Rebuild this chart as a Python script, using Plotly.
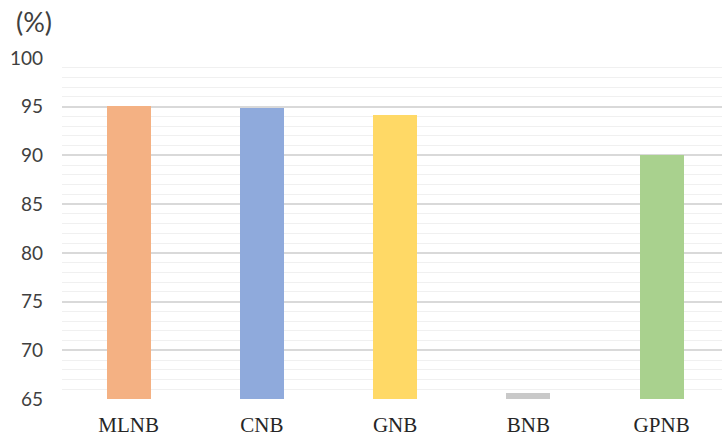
import plotly.graph_objects as go

categories = ["MLNB", "CNB", "GNB", "BNB", "GPNB"]
values = [95.05, 94.9, 94.2, 65.6, 90.0]
colors = ["#F4B183", "#8FAADC", "#FFD966", "#C9C9C9", "#A9D18E"]
y_ticks = [65, 70, 75, 80, 85, 90, 95, 100]

fig = go.Figure(go.Bar(
    x=categories, y=values, marker=dict(color=colors, line=dict(width=0)),
    width=0.33,
))

fig.update_layout(
    width=722, height=440,
    margin=dict(l=62, r=0, t=58, b=41),
    paper_bgcolor="white", plot_bgcolor="white",
    showlegend=False,
    bargap=0,
)
fig.update_xaxes(
    range=[-0.5, 4.453],
    showgrid=False, showline=False, zeroline=False,
    tickfont=dict(family="Liberation Serif", size=21, color="#262626"),
    ticklabelstandoff=11,
)
fig.update_yaxes(
    range=[65, 100],
    tickvals=y_ticks,
    showgrid=True, gridcolor="#D9D9D9", gridwidth=1.5,
    minor=dict(dtick=1, showgrid=True, gridcolor="#F0F0F0", gridwidth=1),
    zeroline=False, showline=False,
    tickfont=dict(family="Lato", size=19, color="#404040"),
    ticklabelstandoff=18,
)
fig.add_annotation(
    text="(%)", xref="paper", yref="paper", x=-0.043, y=1.0, yshift=37,
    xanchor="center", yanchor="middle", showarrow=False,
    font=dict(family="Lato", size=27, color="#404040"),
)

fig.write_html("out.html")
